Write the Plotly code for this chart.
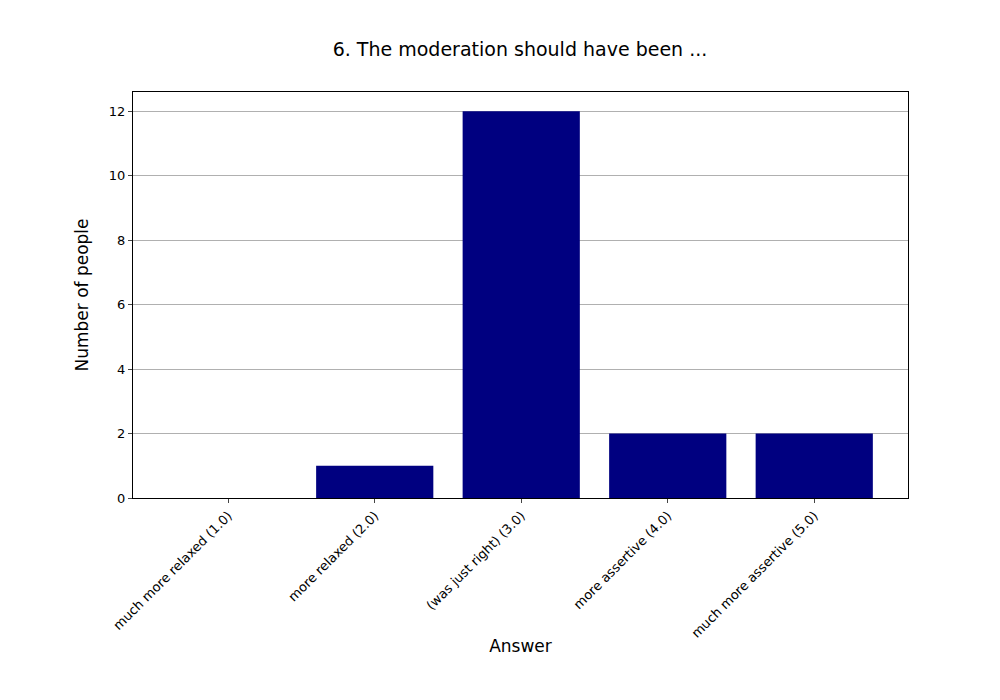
import plotly.graph_objects as go

categories = ["much more relaxed (1.0)", "more relaxed (2.0)", "(was just right) (3.0)",
              "more assertive (4.0)", "much more assertive (5.0)"]
counts = [0, 1, 12, 2, 2]
y_ticks = [0, 2, 4, 6, 8, 10, 12]

fig = go.Figure(go.Bar(x=list(range(len(categories))), y=counts, width=0.8,
                       marker=dict(color="#000080", line=dict(width=0))))

fig.update_layout(
    width=1000, height=700,
    margin=dict(l=125, r=100, t=84, b=210),
    plot_bgcolor="white", paper_bgcolor="white",
    font=dict(family="DejaVu Sans", color="black", size=13),
    title=dict(text="6. The moderation should have been ...", x=0.512, xanchor="center",
               y=0.941, yanchor="middle", font=dict(size=19)),
    showlegend=False,
)
fig.update_xaxes(
    range=[-0.65, 4.64], tickmode="array", tickvals=list(range(len(categories))),
    ticktext=categories, tickangle=-45, ticks="outside", ticklen=4, automargin=False,
    showline=True, linecolor="black", mirror=True, showgrid=False, zeroline=False,
    title=dict(text="Answer", font=dict(size=17), standoff=0),
)
fig.update_yaxes(
    range=[0, 12.6], tickmode="array", tickvals=y_ticks, ticks="outside", ticklen=4,
    showline=True, linecolor="black", mirror=True, showgrid=True, gridcolor="#b0b0b0",
    zeroline=False, automargin=False, title=dict(text="Number of people", font=dict(size=17)),
)

fig.write_html("out.html")
